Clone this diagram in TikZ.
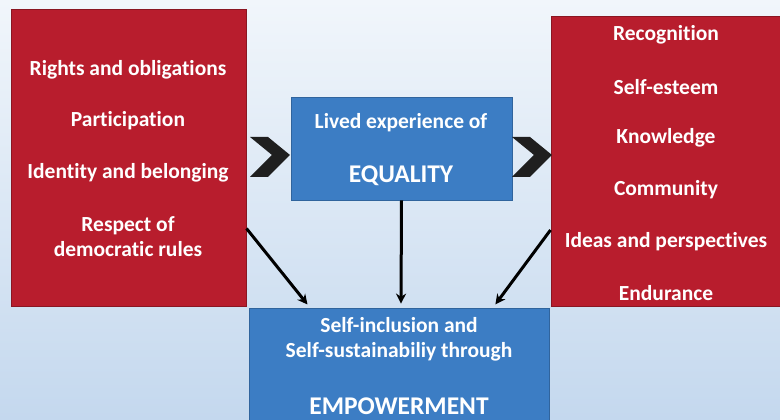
\documentclass[tikz,border=0pt]{standalone}
\usepackage{fontspec}
\setmainfont{Carlito}[Ligatures={NoCommon}]
\usetikzlibrary{arrows.meta}
\definecolor{boxred}{HTML}{B81D2D}
\definecolor{boxblue}{HTML}{3C7DC4}
\definecolor{bgtop}{HTML}{F1F6FB}
\definecolor{bgbottom}{HTML}{C4D8EE}
\begin{document}
\begin{tikzpicture}[x=1pt, y=1pt,
	redbox/.style={fill=boxred, draw=boxred!75!black, line width=1pt, inner sep=0pt},
	bluebox/.style={fill=boxblue, draw=boxblue!80!black, line width=0.8pt, inner sep=0pt},
	txt/.style={text=white, font=\bfseries\fontsize{21.5}{25}\selectfont, align=center},
	bigtxt/.style={text=white, font=\bfseries\fontsize{25.5}{30}\selectfont},
	flow/.style={-{Stealth[length=10pt, width=10pt]}, line width=3pt, shorten >=4pt}]
	\useasboundingbox (0,0) rectangle (780,420);
	\shade[top color=bgtop, bottom color=bgbottom] (0,0) rectangle (780,420);

	% boxes
	\draw (128.5,261.5) node[redbox, minimum width=235, minimum height=297] (lbox) {};
	\draw (665.5,258) node[redbox, minimum width=229, minimum height=290] (rbox) {};
	\draw (401.5,271.5) node[bluebox, minimum width=221, minimum height=103] (eq) {};
	\draw (399,53.5) node[bluebox, minimum width=300, minimum height=117] (emp) {};

	% left side
	\draw (128,350) node[txt] {Rights and obligations};
	\draw (128,299) node[txt] {Participation};
	\draw (128,247) node[txt] {Identity and belonging};
	\draw (128,183) node[txt] {Respect of\\democratic rules};

	% right side
	\draw (666,385) node[txt] {Recognition};
	\draw (666,333) node[txt] {Self-esteem};
	\draw (666,282) node[txt] {Knowledge};
	\draw (666,230) node[txt] {Community};
	\draw (666,178) node[txt] {Ideas and perspectives};
	\draw (666,127) node[txt] {Endurance};

	% middle and bottom
	\draw (401,297) node[txt] {Lived experience of};
	\draw (401,244) node[bigtxt] {EQUALITY};
	\draw (399,81) node[txt] {Self-inclusion and\\Self-sustainabiliy through};
	\draw (399,14) node[bigtxt] {EMPOWERMENT};

	% chevrons
	\fill[black!88] (250,283) -- (268,283) -- (290,265) -- (268,243) -- (250,243) -- (272,265) -- cycle;
	\fill[black!88] (512,283) -- (530,283) -- (552,265) -- (530,243) -- (512,243) -- (534,265) -- cycle;

	% arrows
	\draw[flow] ([yshift=-70pt]lbox.east) -- ([xshift=-89pt]emp.north);
	\draw[flow] (eq.south) -- ([xshift=2pt]emp.north);
	\draw[flow] ([yshift=-68pt]rbox.west) -- ([xshift=94pt]emp.north);
\end{tikzpicture}
\end{document}
